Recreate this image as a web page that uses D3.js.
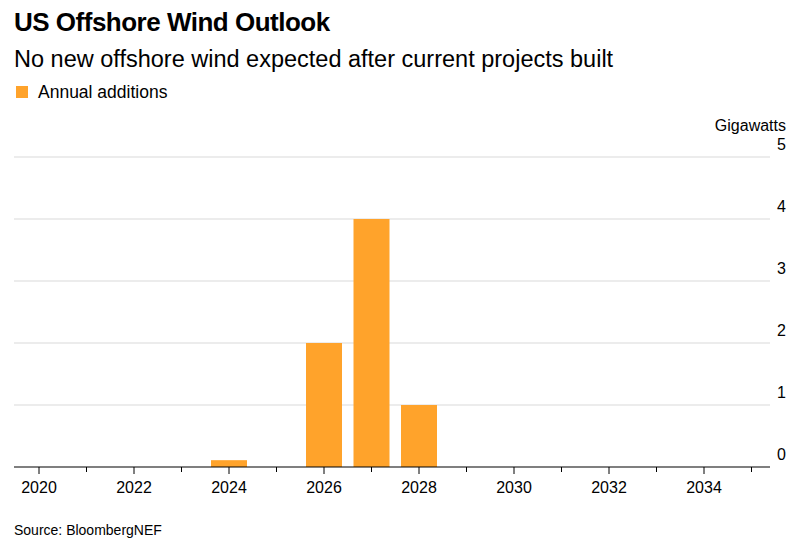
<!DOCTYPE html><html><head><meta charset="utf-8"><script src="https://cdn.jsdelivr.net/npm/d3@7"></script>
<style>body{margin:0;background:#fff;font-family:"Liberation Sans",Arial,sans-serif}</style></head><body><svg id="c" width="800" height="548"></svg><script>
const years=[2024,2026,2027,2028];
const values=[0.11,2,4,1];
const yTicks=[0,1,2,3,4,5];
const xTickLabels=[2020,2022,2024,2026,2028,2030,2032,2034];
const svg=d3.select("#c");
const x=d3.scaleLinear().domain([2020,2034]).range([39,704]);
const y=d3.scaleLinear().domain([0,5]).range([467,157]);
svg.append("text").attr("x",14).attr("y",31).attr("font-size",26).attr("font-weight","bold").attr("letter-spacing",-0.5).text("US Offshore Wind Outlook");
svg.append("text").attr("x",14).attr("y",67).attr("font-size",23.5).text("No new offshore wind expected after current projects built");
svg.append("rect").attr("x",16).attr("y",86).attr("width",12).attr("height",12).attr("fill","#ffa32b");
svg.append("text").attr("x",38).attr("y",98).attr("font-size",17.5).text("Annual additions");
svg.append("text").attr("x",786).attr("y",131).attr("text-anchor","end").attr("font-size",16).text("Gigawatts");
yTicks.forEach(t=>{
 if(t>0)svg.append("line").attr("x1",14).attr("x2",770).attr("y1",y(t)).attr("y2",y(t)).attr("stroke","#d9d9d9");
 svg.append("text").attr("x",786).attr("y",y(t)-7).attr("text-anchor","end").attr("font-size",16).text(t);
});
svg.selectAll(".b").data(years).enter().append("rect").attr("x",d=>x(d)-18).attr("width",36)
 .attr("y",(d,i)=>y(values[i])).attr("height",(d,i)=>y(0)-y(values[i])).attr("fill","#ffa32b");
svg.append("line").attr("x1",14).attr("x2",770).attr("y1",467).attr("y2",467).attr("stroke","#000").attr("stroke-width",1.2);
d3.range(2020,2036).forEach(yr=>{
 svg.append("line").attr("x1",x(yr)).attr("x2",x(yr)).attr("y1",467).attr("y2",yr%2==0?474:472).attr("stroke","#000");
});
xTickLabels.forEach(yr=>svg.append("text").attr("x",x(yr)).attr("y",493).attr("text-anchor","middle").attr("font-size",16).text(yr));
svg.append("text").attr("x",14).attr("y",535).attr("font-size",14).text("Source: BloombergNEF");
</script></body></html>
